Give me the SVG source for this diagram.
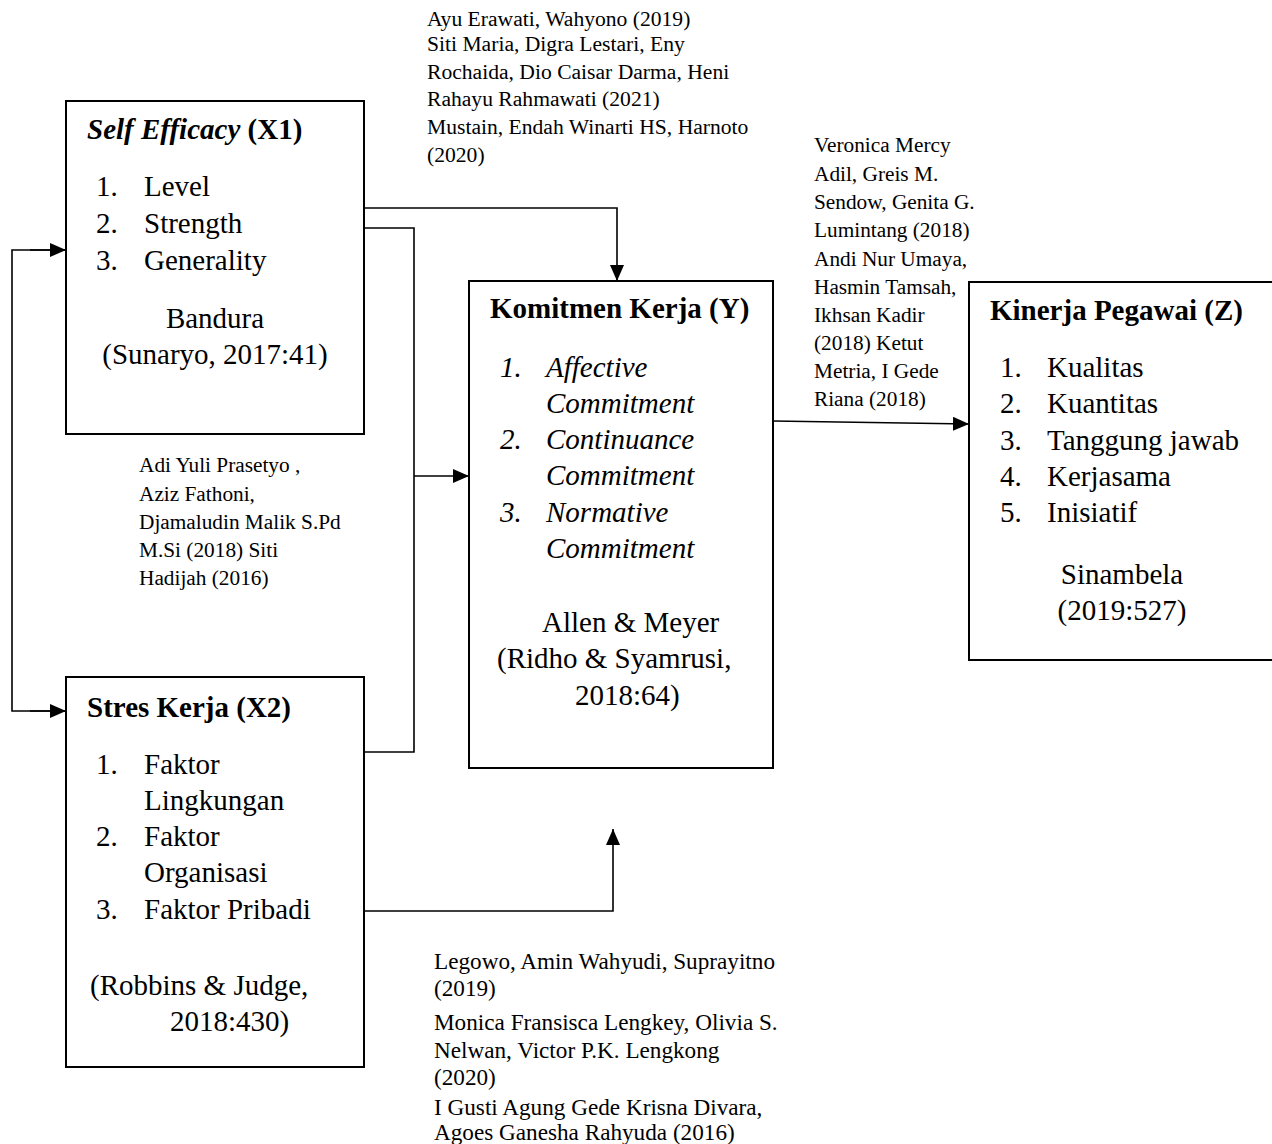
<svg xmlns="http://www.w3.org/2000/svg" width="1272" height="1144" viewBox="0 0 1272 1144">
<defs>
<marker id="arr" markerUnits="userSpaceOnUse" markerWidth="16" markerHeight="14" refX="16" refY="7" orient="auto">
<path d="M0,0 L16,7 L0,14 z" fill="#000"/>
</marker>
<style>
.box{fill:#fff;stroke:#000;stroke-width:2}
.con{fill:none;stroke:#000;stroke-width:1.6}
.t{font-family:"Liberation Serif","Times New Roman",serif;font-size:29px;fill:#000}
.b{font-weight:bold}
.i{font-style:italic}
.r{font-family:"Liberation Serif","Times New Roman",serif;font-size:21.3px;fill:#000}
.rt{font-size:21.6px}
.rb{font-size:23.2px}
</style>
</defs>
<rect width="1272" height="1144" fill="#fff"/>

<g id="connectors">
<polyline class="con" points="364,208 617,208 617,281" marker-end="url(#arr)"/>
<polyline class="con" points="364,228 414,228 414,752 364,752"/>
<line class="con" x1="414" y1="476" x2="469" y2="476" marker-end="url(#arr)"/>
<polyline class="con" points="364,911 613,911 613,829" marker-end="url(#arr)"/>
<line class="con" x1="773" y1="421" x2="969" y2="424" marker-end="url(#arr)"/>
<polyline class="con" points="66,250 12,250 12,711 66,711"/>
<line class="con" x1="30" y1="250" x2="66" y2="250" marker-end="url(#arr)"/>
<line class="con" x1="30" y1="711" x2="66" y2="711" marker-end="url(#arr)"/>
</g>

<g id="node-x1">
<rect class="box" x="66" y="101" width="298" height="333"/>
<text class="t b" x="87" y="139"><tspan class="i">Self Efficacy</tspan> (X1)</text>
<text class="t" x="96" y="196">1.</text><text class="t" x="144" y="196">Level</text>
<text class="t" x="96" y="233">2.</text><text class="t" x="144" y="233">Strength</text>
<text class="t" x="96" y="270">3.</text><text class="t" x="144" y="270">Generality</text>
<text class="t" x="215" y="328" text-anchor="middle">Bandura</text>
<text class="t" x="215" y="364" text-anchor="middle">(Sunaryo, 2017:41)</text>
</g>

<g id="node-x2">
<rect class="box" x="66" y="677" width="298" height="390"/>
<text class="t b" x="87" y="717">Stres Kerja (X2)</text>
<text class="t" x="96" y="774">1.</text><text class="t" x="144" y="774">Faktor</text>
<text class="t" x="144" y="810">Lingkungan</text>
<text class="t" x="96" y="846">2.</text><text class="t" x="144" y="846">Faktor</text>
<text class="t" x="144" y="882">Organisasi</text>
<text class="t" x="96" y="919">3.</text><text class="t" x="144" y="919">Faktor Pribadi</text>
<text class="t" x="90" y="995">(Robbins &amp; Judge,</text>
<text class="t" x="170" y="1031">2018:430)</text>
</g>

<g id="node-y">
<rect class="box" x="469" y="281" width="304" height="487"/>
<text class="t b" x="490" y="318">Komitmen Kerja (Y)</text>
<g class="t i">
<text x="500" y="377">1.</text><text x="546" y="377">Affective</text>
<text x="546" y="413">Commitment</text>
<text x="500" y="449">2.</text><text x="546" y="449">Continuance</text>
<text x="546" y="485">Commitment</text>
<text x="500" y="522">3.</text><text x="546" y="522">Normative</text>
<text x="546" y="558">Commitment</text>
</g>
<text class="t" x="542" y="632">Allen &amp; Meyer</text>
<text class="t" x="497" y="668">(Ridho &amp; Syamrusi,</text>
<text class="t" x="575" y="705">2018:64)</text>
</g>

<g id="node-z">
<rect class="box" x="969" y="282" width="310" height="378"/>
<text class="t b" x="990" y="320">Kinerja Pegawai (Z)</text>
<text class="t" x="1000" y="377">1.</text><text class="t" x="1047" y="377">Kualitas</text>
<text class="t" x="1000" y="413">2.</text><text class="t" x="1047" y="413">Kuantitas</text>
<text class="t" x="1000" y="450">3.</text><text class="t" x="1047" y="450">Tanggung jawab</text>
<text class="t" x="1000" y="486">4.</text><text class="t" x="1047" y="486">Kerjasama</text>
<text class="t" x="1000" y="522">5.</text><text class="t" x="1047" y="522">Inisiatif</text>
<text class="t" x="1122" y="584" text-anchor="middle">Sinambela</text>
<text class="t" x="1122" y="620" text-anchor="middle">(2019:527)</text>
</g>

<g id="ref-top" class="r rt">
<text x="427" y="26">Ayu Erawati, Wahyono (2019)</text>
<text x="427" y="51">Siti Maria, Digra Lestari, Eny</text>
<text x="427" y="79">Rochaida, Dio Caisar Darma, Heni</text>
<text x="427" y="106">Rahayu Rahmawati (2021)</text>
<text x="427" y="134">Mustain, Endah Winarti HS, Harnoto</text>
<text x="427" y="162">(2020)</text>
</g>

<g id="ref-right" class="r">
<text x="814" y="152">Veronica Mercy</text>
<text x="814" y="181">Adil, Greis M.</text>
<text x="814" y="209">Sendow, Genita G.</text>
<text x="814" y="237">Lumintang (2018)</text>
<text x="814" y="266">Andi Nur Umaya,</text>
<text x="814" y="294">Hasmin Tamsah,</text>
<text x="814" y="322">Ikhsan Kadir</text>
<text x="814" y="350">(2018) Ketut</text>
<text x="814" y="378">Metria, I Gede</text>
<text x="814" y="406">Riana (2018)</text>
</g>

<g id="ref-left" class="r">
<text x="139" y="472">Adi Yuli Prasetyo ,</text>
<text x="139" y="501">Aziz Fathoni,</text>
<text x="139" y="529">Djamaludin Malik S.Pd</text>
<text x="139" y="557">M.Si (2018) Siti</text>
<text x="139" y="585">Hadijah (2016)</text>
</g>

<g id="ref-bottom" class="r rb">
<text x="434" y="969">Legowo, Amin Wahyudi, Suprayitno</text>
<text x="434" y="996">(2019)</text>
<text x="434" y="1030">Monica Fransisca Lengkey, Olivia S.</text>
<text x="434" y="1058">Nelwan, Victor P.K. Lengkong</text>
<text x="434" y="1085">(2020)</text>
<text x="434" y="1115">I Gusti Agung Gede Krisna Divara,</text>
<text x="434" y="1140">Agoes Ganesha Rahyuda (2016)</text>
</g>
</svg>
